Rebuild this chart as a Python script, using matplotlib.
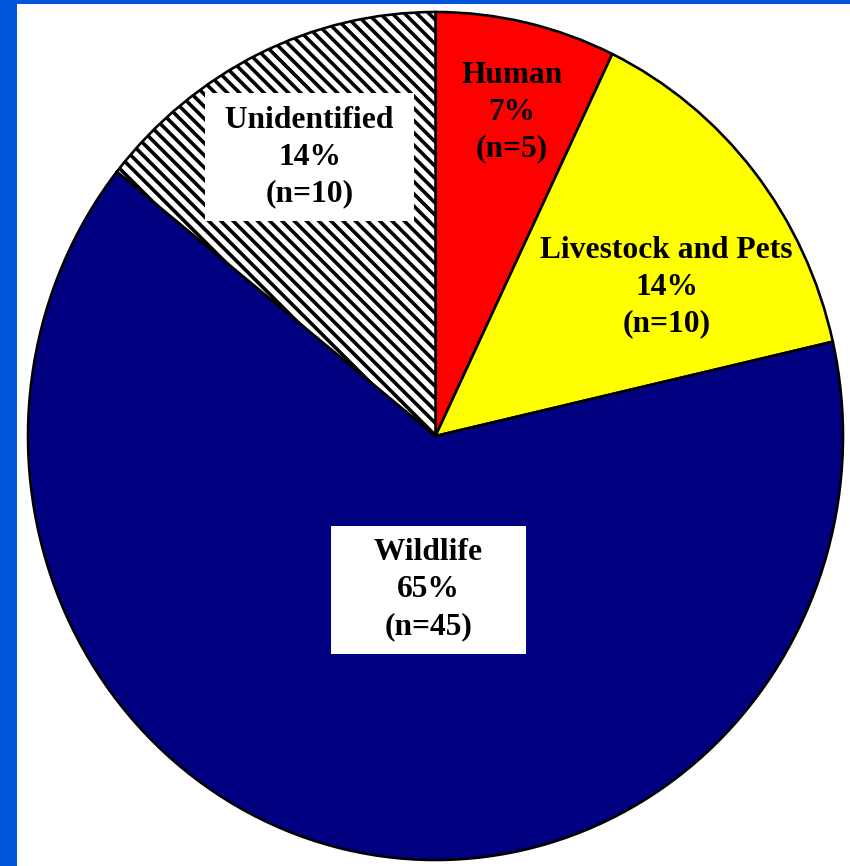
import matplotlib
matplotlib.use("Agg")
import matplotlib.pyplot as plt
from matplotlib.patches import Rectangle

# data
sources = ["Human", "Livestock and Pets", "Wildlife", "Unidentified"]
counts = [5, 10, 45, 10]
percents = ["7%", "14%", "65%", "14%"]
colors = ["#FF0000", "#FFFF00", "#000080", "white"]
hatches = [None, None, None, "\\\\\\"]

# label centres in pie coords (radius = 1)
label_xy = [(0.187, 0.764), (0.567, 0.351), (-0.017, -0.363), (-0.309, 0.658)]
label_box = [False, False, True, True]
label_pad = ["", "", "    ", " "]

DPI = 110          # hatch spacing scales with dpi
def pt(px):
    return px * 72 / DPI

plt.rcParams["font.family"] = ["Liberation Serif", "DejaVu Serif"]
plt.rcParams["hatch.linewidth"] = pt(3.6)

W, H = 850, 866
fig = plt.figure(figsize=(W / DPI, H / DPI), dpi=DPI)
fig.patch.set_facecolor("#0055DA")
fig.patches.append(Rectangle((17 / W, 0), 1, 1 - 4 / H, transform=fig.transFigure,
                             facecolor="white", edgecolor="none", zorder=-5))

# pie is drawn slightly taller than wide in the original
cx, cy, rx, ry = 435.5, 436, 407.5, 424
ax = fig.add_axes([(cx - rx) / W, (H - cy - ry) / H, 2 * rx / W, 2 * ry / H])
ax.patch.set_visible(False)
ax.set_zorder(5)

wedges, _ = ax.pie(counts, colors=colors, startangle=90, counterclock=False,
                   radius=1, wedgeprops=dict(edgecolor="black", linewidth=pt(2.6)))
for w, h in zip(wedges, hatches):
    if h:
        w.set_hatch(h)

for name, n, pct, (x, y), boxed, sp in zip(sources, counts, percents, label_xy,
                                           label_box, label_pad):
    txt = f"{sp}{name}{sp}\n{pct}\n(n={n})"
    kw = {}
    if boxed:
        kw["bbox"] = dict(boxstyle="square,pad=0.4", facecolor="white", edgecolor="none")
    ax.text(x, y, txt, ha="center", va="center", fontsize=pt(31.5), fontweight="bold",
            linespacing=1.36, color="black", **kw)

ax.set_aspect("auto")
ax.set_xlim(-1, 1)
ax.set_ylim(-1, 1)
ax.axis("off")

fig.savefig("out.png", dpi=DPI, facecolor=fig.get_facecolor())
